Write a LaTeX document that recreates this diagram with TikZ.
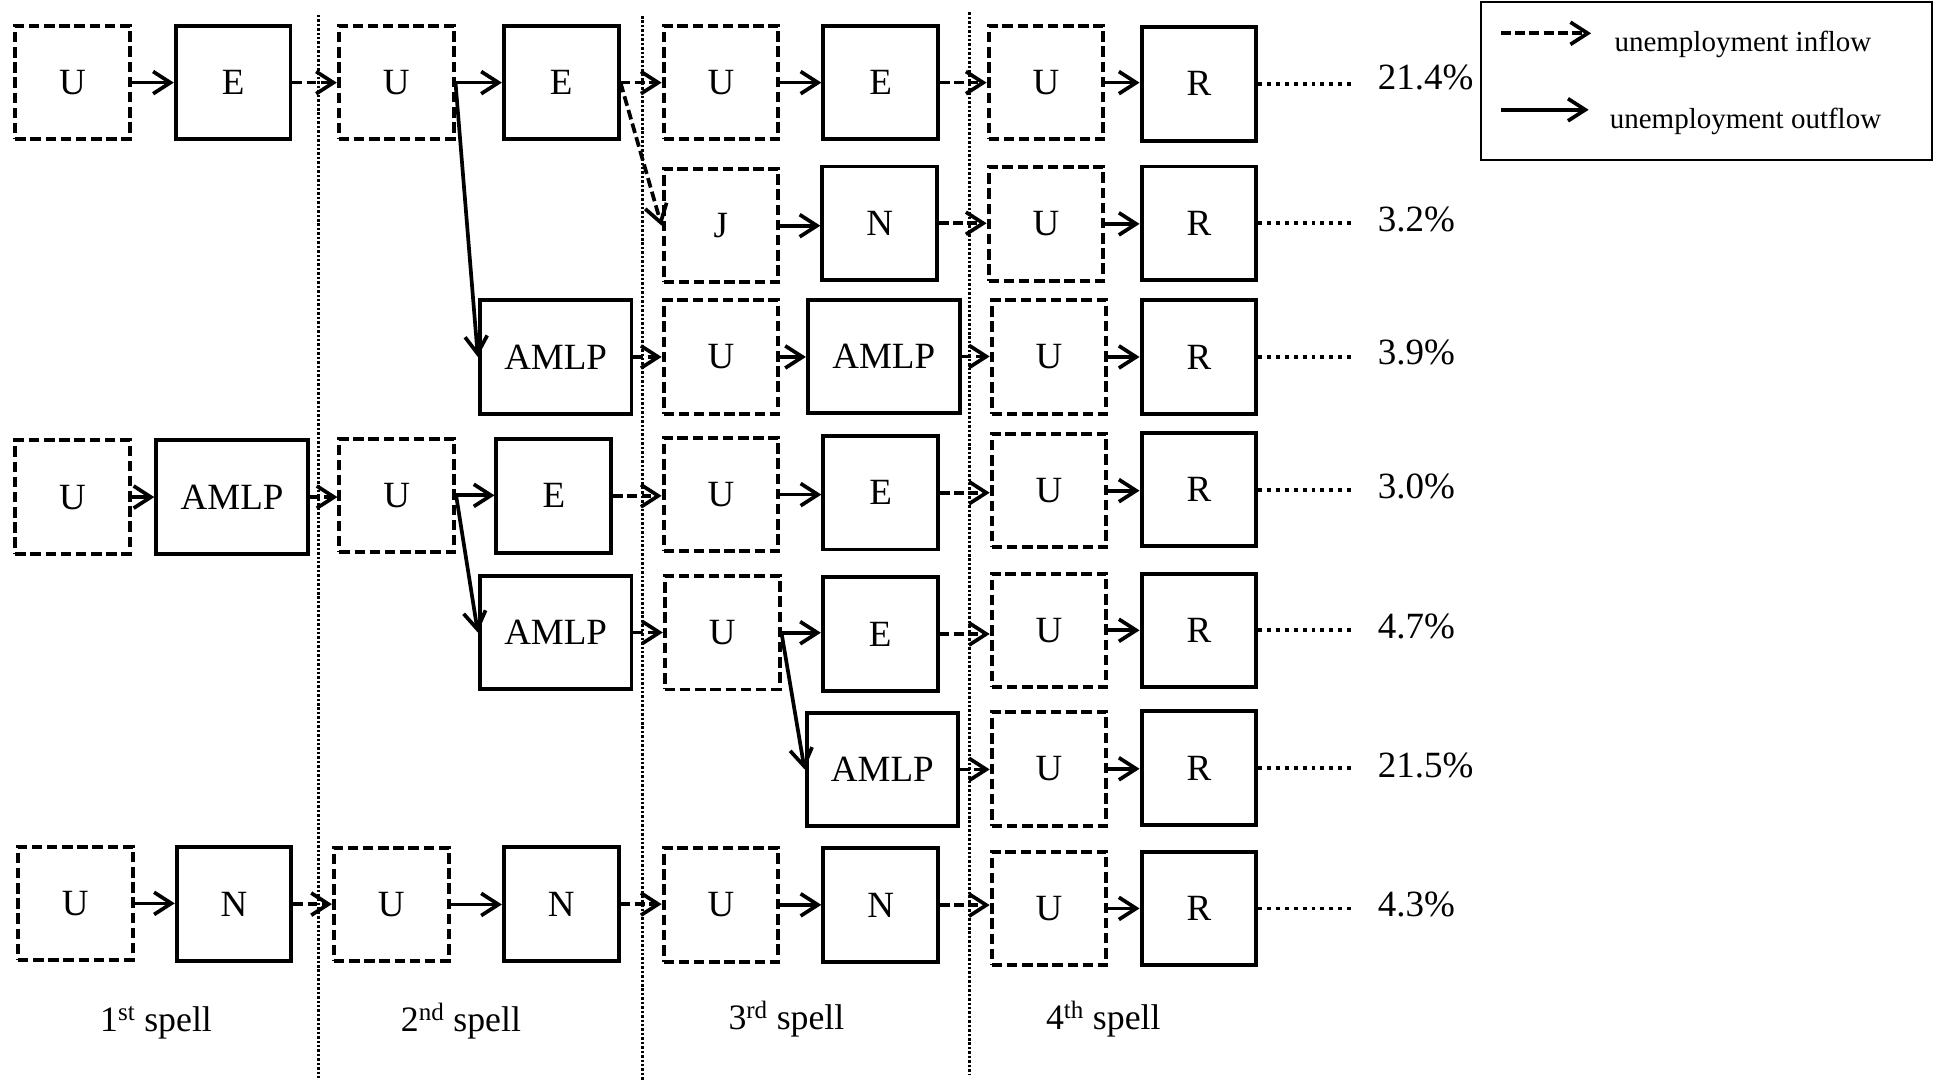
\documentclass[tikz,border=0pt]{standalone}
\usepackage{fontspec}
\setmainfont{Liberation Serif}
\usetikzlibrary{arrows.meta,calc}
\begin{document}
\begin{tikzpicture}[x=1pt,y=-1pt,
  every node/.style={font=\fontsize{30}{36}\selectfont},
  nbox/.style={draw,line width=3.2pt,minimum height=92pt,inner sep=0pt,anchor=center},
  ubox/.style={nbox,dash pattern=on 8.5pt off 3.8pt,minimum width=93pt},
  sbox/.style={nbox,minimum width=93pt},
  abox/.style={nbox,minimum width=123pt},
  arr/.style={line width=3pt,-{Straight Barb[length=14pt,width=18pt]}},
  outarr/.style={arr},
  inarr/.style={arr,dash pattern=on 8pt off 3.5pt},
  spellsep/.style={line width=2.2pt,dash pattern=on 2pt off 1.6pt},
  lead/.style={line width=3pt,dash pattern=on 3.2pt off 4pt,shorten >=19pt},
  pct/.style={anchor=west,inner sep=0pt},
  spell/.style={anchor=base,inner sep=0pt,font=\fontsize{29}{34}\selectfont},
  legtext/.style={anchor=base west,inner sep=0pt,font=\fontsize{23.5}{28}\selectfont}
]
\useasboundingbox (0,0) rectangle (1568,878);

% spell separators
\draw[spellsep] (258,12) -- (258,874);
\draw[spellsep] (521,13) -- (521,876);
\draw[spellsep] (786,10) -- (786,871);

% Row 1
\node[ubox] (u11) at (58.8,67) {U};
\node[sbox] (e11) at (189,67) {E};
\node[ubox] (u12) at (321.2,67) {U};
\node[sbox] (e12) at (455,67) {E};
\node[ubox] (u13) at (584.5,67) {U};
\node[sbox] (e13) at (714,67) {E};
\node[ubox] (u14) at (848,67) {U};
\node[sbox] (r1) at (972,68) {R};

% Row 2
\node[ubox] (j2) at (584.5,183) {J};
\node[sbox] (n2) at (713.2,181) {N};
\node[ubox] (u24) at (848,181.5) {U};
\node[sbox] (r2) at (972,181) {R};

% Row 3
\node[abox] (a32) at (450.5,289.4) {AMLP};
\node[ubox] (u33) at (584.5,289.4) {U};
\node[abox] (a33) at (716.5,289) {AMLP};
\node[ubox] (u34) at (850.5,289.4) {U};
\node[sbox] (r3) at (972,289.6) {R};

% Row 4
\node[ubox] (u41) at (58.8,403) {U};
\node[abox] (a41) at (188.2,403) {AMLP};
\node[ubox] (u42) at (321.7,401.6) {U};
\node[sbox] (e42) at (449,402) {E};
\node[ubox] (u43) at (584.5,401) {U};
\node[sbox] (e43) at (714,399.5) {E};
\node[ubox] (u44) at (850.5,397.8) {U};
\node[sbox] (r4) at (972,397) {R};

% Row 5
\node[abox] (a52) at (450.5,512.8) {AMLP};
\node[ubox] (u53) at (585.5,513) {U};
\node[sbox] (e53) at (713.6,514) {E};
\node[ubox] (u54) at (850.5,511) {U};
\node[sbox] (r5) at (972,511) {R};

% Row 6
\node[abox] (a63) at (715.4,623.8) {AMLP};
\node[ubox] (u64) at (850.5,623.3) {U};
\node[sbox] (r6) at (972,622.8) {R};

% Row 7
\node[ubox] (u71) at (61,732.4) {U};
\node[sbox] (n71) at (189.8,733) {N};
\node[ubox] (u72) at (317.2,733.3) {U};
\node[sbox] (n72) at (455,733) {N};
\node[ubox] (u73) at (584.5,733.6) {U};
\node[sbox] (n73) at (714,733.8) {N};
\node[ubox] (u74) at (850.5,736.5) {U};
\node[sbox] (r7) at (972,736.5) {R};

% horizontal arrows
\draw[outarr] (u11.east) -- (u11.east -| e11.west);
\draw[inarr]  (e11.east) -- (e11.east -| u12.west);
\draw[outarr] (u12.east) -- (u12.east -| e12.west);
\draw[inarr]  (e12.east) -- (e12.east -| u13.west);
\draw[outarr] (u13.east) -- (u13.east -| e13.west);
\draw[inarr]  (e13.east) -- (e13.east -| u14.west);
\draw[outarr] (u14.east) -- (u14.east -| r1.west);

\draw[outarr] (j2.east) -- (j2.east -| n2.west);
\draw[inarr]  (n2.east) -- (n2.east -| u24.west);
\draw[outarr] (u24.east) -- (u24.east -| r2.west);

\draw[inarr]  (a32.east) -- (a32.east -| u33.west);
\draw[outarr] (u33.east) -- (u33.east -| a33.west);
\draw[inarr]  (a33.east) -- (a33.east -| u34.west);
\draw[outarr] (u34.east) -- (u34.east -| r3.west);

\draw[outarr] (u41.east) -- (u41.east -| a41.west);
\draw[inarr]  (a41.east) -- (a41.east -| u42.west);
\draw[outarr] (u42.east) -- (u42.east -| e42.west);
\draw[inarr]  (e42.east) -- (e42.east -| u43.west);
\draw[outarr] (u43.east) -- (u43.east -| e43.west);
\draw[inarr]  (e43.east) -- (e43.east -| u44.west);
\draw[outarr] (u44.east) -- (u44.east -| r4.west);

\draw[inarr]  (a52.east) -- (a52.east -| u53.west);
\draw[outarr] (u53.east) -- (u53.east -| e53.west);
\draw[inarr]  (e53.east) -- (e53.east -| u54.west);
\draw[outarr] (u54.east) -- (u54.east -| r5.west);

\draw[inarr]  (a63.east) -- (a63.east -| u64.west);
\draw[outarr] (u64.east) -- (u64.east -| r6.west);

\draw[outarr] (u71.east) -- (u71.east -| n71.west);
\draw[inarr]  (n71.east) -- (n71.east -| u72.west);
\draw[outarr] (u72.east) -- (u72.east -| n72.west);
\draw[inarr]  (n72.east) -- (n72.east -| u73.west);
\draw[outarr] (u73.east) -- (u73.east -| n73.west);
\draw[inarr]  (n73.east) -- (n73.east -| u74.west);
\draw[outarr] (u74.east) -- (u74.east -| r7.west);

% diagonal arrows
\draw[outarr] (u12.east) -- (a32.west);
\draw[inarr]  (e12.east) -- (j2.west);
\draw[outarr] (u42.east) -- (a52.west);
\draw[outarr] (u53.east) -- (a63.west);

% percentages
\node[pct] (p1) at (1117,62.4) {21.4\%};
\node[pct] (p2) at (1117,177.8) {3.2\%};
\node[pct] (p3) at (1117,286) {3.9\%};
\node[pct] (p4) at (1117,394.6) {3.0\%};
\node[pct] (p5) at (1117,507.9) {4.7\%};
\node[pct] (p6) at (1117,620.8) {21.5\%};
\node[pct] (p7) at (1117,733.4) {4.3\%};

\draw[lead] (r1.east) -- (r1.east -| p1.west);
\draw[lead] (r2.east) -- (r2.east -| p2.west);
\draw[lead] (r3.east) -- (r3.east -| p3.west);
\draw[lead] (r4.east) -- (r4.east -| p4.west);
\draw[lead] (r5.east) -- (r5.east -| p5.west);
\draw[lead] (r6.east) -- (r6.east -| p6.west);
\draw[lead] (r7.east) -- (r7.east -| p7.west);

% spell labels
\node[spell] (s1) at (126.5,836.5) {1\textsuperscript{st} spell};
\node[spell] (s2) at (373.7,836.5) {2\textsuperscript{nd} spell};
\node[spell] (s3) at (637.6,834.8) {3\textsuperscript{rd} spell};
\node[spell] (s4) at (894.5,834.8) {4\textsuperscript{th} spell};

% legend
\draw[line width=1.8pt] (1200.6,1.5) rectangle (1566.6,129.7);
\coordinate (l1a) at (1217,27);
\coordinate (l1b) at (1290,27);
\coordinate (l2a) at (1217,89);
\coordinate (l2b) at (1288,89);
\draw[inarr] (l1a) -- (l1b);
\draw[outarr] (l2a) -- (l2b);
\node[legtext] (t1) at (1308.8,41.9) {unemployment inflow};
\node[legtext] (t2) at (1305,104) {unemployment outflow};
\end{tikzpicture}
\end{document}
